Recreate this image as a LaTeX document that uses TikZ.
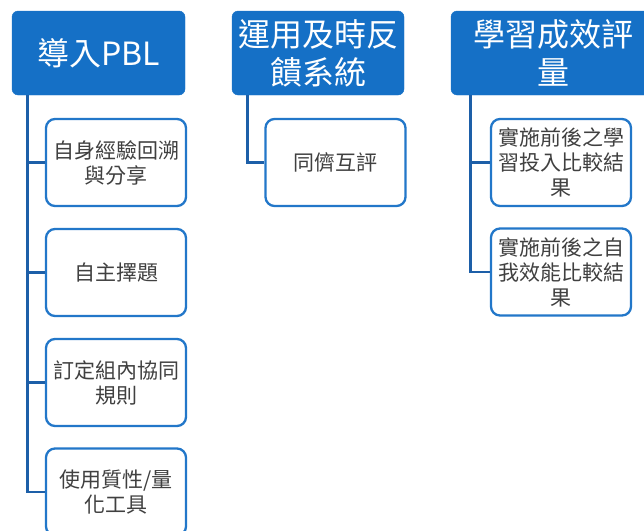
\documentclass[tikz,border=0pt]{standalone}
\usepackage{fontspec}
\setmainfont{Noto Sans CJK TC}
\definecolor{hdrblue}{HTML}{1570C6}
\definecolor{linkblue}{HTML}{1D5FA8}
\definecolor{boxblue}{HTML}{2277C9}
\definecolor{txtgray}{HTML}{404040}
\begin{document}
\begin{tikzpicture}[x=1pt,y=-1pt,
  header/.style={fill=hdrblue, draw=hdrblue, rounded corners=6pt, text=white,
    minimum height=84pt, align=center, inner sep=0pt,
    font=\fontsize{32}{38}\selectfont},
  child/.style={fill=white, draw=boxblue, line width=2.3pt, rounded corners=9pt,
    text=txtgray, minimum width=140pt, minimum height=87pt, align=center,
    inner sep=0pt, font=\fontsize{21}{25}\selectfont},
  conn/.style={draw=linkblue, line width=2.8pt}]
\useasboundingbox (0,0) rectangle (644,530);

\node[header, minimum width=173pt] (h1) at (98.5,53) {導入PBL};
\node[header, minimum width=172pt] (h2) at (318,53) {運用及時反\\饋系統};
\node[header, minimum width=204pt] (h3) at (553,53) {學習成效評\\量};

\node[child] (c11) at (116,162.5) {自身經驗回溯\\與分享};
\node[child] (c12) at (116,272.5) {自主擇題};
\node[child] (c13) at (116,382.5) {訂定組內協同\\規則};
\node[child] (c14) at (116,492) {使用質性/量\\化工具};

\node[child] (c21) at (335.5,162.5) {同儕互評};

\node[child] (c31) at (561,162.5) {實施前後之學\\習投入比較結\\果};
\node[child] (c32) at (561,272) {實施前後之自\\我效能比較結\\果};

\draw[conn] ([xshift=16pt]h1.south west) |- (c11.west);
\draw[conn] ([xshift=16pt]h1.south west) |- (c12.west);
\draw[conn] ([xshift=16pt]h1.south west) |- (c13.west);
\draw[conn] ([xshift=16pt]h1.south west) |- (c14.west);
\draw[conn] ([xshift=16pt]h2.south west) |- (c21.west);
\draw[conn] ([xshift=20pt]h3.south west) |- (c31.west);
\draw[conn] ([xshift=20pt]h3.south west) |- (c32.west);
\end{tikzpicture}
\end{document}
